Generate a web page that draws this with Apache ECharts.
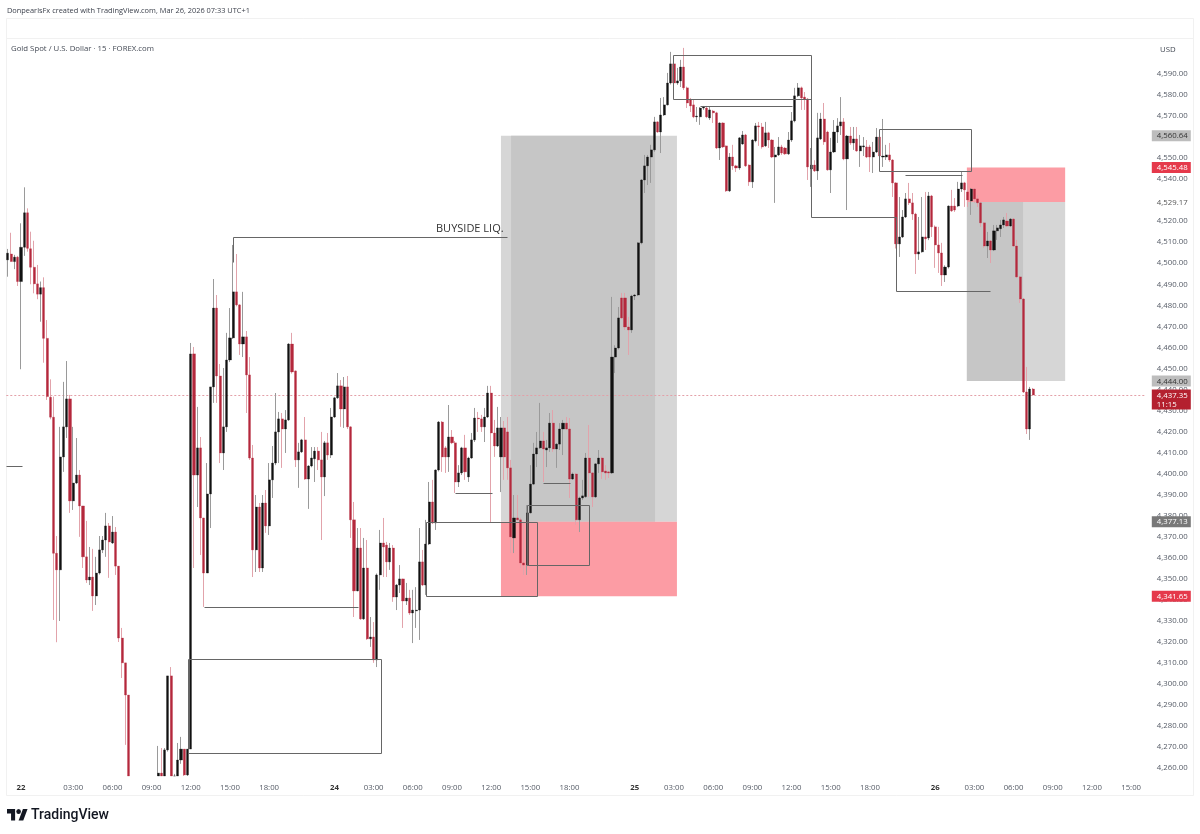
<!DOCTYPE html>
<html>
<head>
<meta charset="utf-8">
<title>Gold Spot 15m</title>
<style>html,body{margin:0;padding:0;background:#fff}#c{width:1200px;height:834px}</style>
<script src="https://cdn.jsdelivr.net/npm/echarts@6/dist/echarts.min.js"></script>
</head>
<body>
<div id="c"></div>
<script>
// open, close, low, high (15 minute bars)
var candles = [
[4501.6,4504.8,4493.6,4506.8],[4504.4,4500.8,4500.8,4514.5],[4500.8,4502.9,4497.2,4504],[4502.9,4491.3,4489.2,4503.5],[4491.3,4507.6,4449.6,4519],
[4507.6,4524,4503.5,4536.1],[4524,4507.1,4505.5,4526.1],[4506.9,4498.1,4490,4515],[4498.1,4490.2,4485.7,4510.7],[4490.2,4485.3,4482.9,4499.2],
[4485.3,4488.4,4472.2,4491.3],[4488.4,4464.3,4452.7,4493.3],[4464.3,4436.6,4435,4473],[4436.3,4426.8,4425.8,4444.8],[4426.8,4362.1,4330.4,4436.6],
[4362.1,4354.2,4319.8,4370.3],[4354.2,4407.9,4329.9,4422.2],[4407.9,4422.2,4400.8,4443.6],[4422.2,4435.5,4416.9,4453.5],[4435.5,4387,4381.3,4437.4],
[4387,4395.5,4382.7,4422.2],[4395.5,4399.3,4395,4416.9],[4399.3,4384.6,4369.9,4401.7],[4384.6,4360.4,4355.1,4384.6],[4360.4,4349.4,4348,4377.5],
[4349.4,4350.8,4347,4365.1],[4350.8,4341.8,4334.7,4364.2],[4341.8,4352.7,4337.5,4360.4],[4352.7,4363.7,4352,4370.3],[4363.7,4368.4,4362.2,4370.3],
[4368.4,4375.1,4360.4,4381.3],[4375.1,4367.5,4350.4,4376.5],[4367,4372.2,4366.5,4379.8],[4372.2,4356,4351.8,4374.6],[4356,4321.8,4319.9,4356],
[4321.8,4310,4302.8,4326.6],[4310,4294.7,4271,4310],[4294.7,4250,4245,4294.7],[4250,4242,4238,4253],[4242,4236,4232,4248],
[4236,4240,4230,4246],[4240,4232,4228,4244],[4232,4238,4226,4242],[4238,4234,4230,4244],[4234,4240,4230,4246],
[4240,4246,4236,4250],[4254,4257.6,4250,4270.5],[4257.6,4254,4250,4269.5],[4254,4268.6,4250,4269.5],[4268.6,4303.8,4267.8,4303.8],
[4303.8,4254,4250,4308],[4250,4252,4246,4257.2],[4254,4263.8,4250,4271.9],[4263.8,4269,4262,4274.8],[4269,4256.7,4254,4269],
[4256.7,4269,4254,4269],[4269,4456.9,4269,4462.1],[4456.9,4399.3,4355.1,4460.2],[4399.3,4412.2,4384.1,4431.7],[4412.2,4378.9,4361.3,4417.4],
[4378.9,4352.7,4336.6,4378.9],[4352.7,4390.3,4352.7,4405],[4390.3,4441.2,4374.1,4441.2],[4441.2,4478.7,4433.6,4492.5],[4478.7,4446.4,4433.6,4484.9],
[4446.4,4409.8,4405,4452.1],[4409.8,4422.2,4401.7,4450.2],[4422.2,4454,4419.8,4466.9],[4454,4464.5,4453,4478.7],[4464.5,4486.4,4464,4508.7],
[4486.4,4480.2,4479.5,4504.4],[4480.2,4461.6,4456.4,4480.5],[4461.6,4465,4455.4,4486.4],[4465,4446.9,4428.8,4467.8],[4446.9,4407.4,4406.5,4455.4],
[4407.4,4363.7,4350.8,4413.6],[4363.7,4384.1,4353.2,4389.8],[4384.1,4355.1,4353.2,4386],[4355.1,4386,4353.2,4389.8],[4386,4375.1,4371.8,4392.2],
[4375.1,4397,4370.8,4405],[4397,4405,4388.4,4413.1],[4405,4419.8,4404,4438.3],[4419.8,4426,4405,4429.3],[4426,4421.2,4402.7,4428.8],
[4421.2,4425.5,4409.8,4430.2],[4425.5,4461.6,4425,4462],[4461.6,4448.3,4447.5,4466.9],[4448.8,4406.5,4403.1,4449],[4406.5,4410.3,4393.2,4414.6],
[4410.3,4416,4409.8,4416.5],[4416,4397.4,4397,4426.9],[4397.4,4403.6,4383.2,4404],[4403.6,4407.4,4403,4412.6],[4407,4410.7,4396,4412.6],
[4410.7,4406.5,4401.7,4412.6],[4406.5,4398.4,4368.4,4419.8],[4398.4,4414.6,4389.3,4415.5],[4414.6,4408.8,4406.5,4419.3],[4408.8,4426.9,4407.4,4431.2],
[4426.9,4436,4426.4,4436.5],[4436,4441.7,4435.5,4447.8],[4441.7,4430.7,4422.2,4444.5],[4430.7,4441.2,4421.7,4445.9],[4441.2,4422.2,4421.2,4446.4],
[4422.2,4378,4369.4,4422.5],[4378,4344.2,4331.8,4386.5],[4344.2,4364.6,4344,4374.1],[4364.6,4330.9,4330.4,4374.1],[4330.9,4355.1,4330.4,4369.4],
[4355.1,4321.4,4320.9,4368.4],[4321.4,4322.3,4317.6,4331.8],[4322.3,4311.4,4310,4329.4],[4311.4,4351.8,4308,4352.5],[4351.8,4367,4344.7,4373.2],
[4367,4365.1,4350.8,4378.9],[4366,4358,4350.8,4367.5],[4358,4364.6,4354.2,4367],[4364.6,4341.3,4339,4366],[4341.3,4347,4335.1,4347.5],
[4347,4349.9,4343.2,4356.5],[4349.9,4339.4,4326.6,4350],[4339.4,4340.8,4337.5,4348],[4340.8,4333.7,4332.8,4344.7],[4333.7,4335.1,4319.4,4344.7],
[4334.7,4335.1,4326.6,4346],[4335.1,4358,4320.9,4374.1],[4358,4347,4346.5,4363.7],[4347,4366.5,4342.3,4378],[4366.5,4386.5,4366,4396],
[4386.5,4376.5,4376,4397],[4376.5,4401.7,4373.2,4402],[4401.7,4424.5,4401,4425],[4424.5,4407.9,4400.8,4425],[4412.2,4407.9,4400.3,4413],
[4407.9,4417.4,4400.8,4432.6],[4417.4,4414.6,4414,4420.7],[4414.6,4396,4390.8,4415.5],[4396,4400.3,4393.6,4404],[4400.3,4412.2,4399.3,4412.7],
[4412.2,4400.8,4397,4418.4],[4398.4,4407.4,4396,4408],[4407.4,4416,4407,4419.3],[4416,4426.4,4415,4431.2],[4426.4,4426,4419.8,4429.3],
[4426,4422.2,4419.8,4427.9],[4422.2,4426.9,4415,4431.2],[4426.9,4438.3,4426.4,4441.7],[4438.3,4419.3,4376.5,4441.7],[4419.3,4413.1,4407.9,4425.5],
[4413.1,4421.7,4412.6,4431.7],[4407.9,4421.7,4391.2,4426.9],[4421.7,4407.9,4397,4425],[4419.8,4402.7,4397,4426.9],[4402.7,4369.9,4362.2,4406.5],
[4369.4,4378.9,4362.2,4389.8],[4378.9,4378,4377.5,4389.8],[4378,4357.5,4355.1,4379],[4357.5,4356.5,4351.8,4377],[4356.5,4381.3,4351.8,4385],
[4381.3,4395,4381,4404],[4395,4409.3,4394.5,4414.6],[4409.3,4412.2,4403.1,4419.8],[4412.2,4415.5,4411.7,4433.6],[4415.5,4411.7,4396,4419.8],
[4411.2,4412.2,4403.1,4416],[4412.2,4424,4410.3,4428.8],[4424,4411.7,4410.3,4430.2],[4411.7,4414,4402.7,4414.5],[4414,4421.2,4411.2,4424],
[4421.2,4424,4408.8,4425.5],[4424,4421.2,4420.7,4426.9],[4421.2,4397.4,4388.4,4426.4],[4397.4,4399.8,4397,4400.5],[4399.8,4378,4375.6,4400.3],
[4378,4388.4,4372.2,4389],[4388.4,4389.4,4387.4,4397],[4389,4407.4,4388.5,4409.8],[4407.4,4400.3,4388.9,4423.1],[4400.3,4388.9,4384.1,4400.8],
[4388.9,4404.6,4388.4,4405],[4404.6,4407.4,4400.3,4411.2],[4407.4,4400.8,4397.4,4408],[4401.2,4400.3,4397,4404],[4400.8,4400.3,4397.9,4401.2],
[4400.3,4455.4,4399.8,4484],[4455.4,4459.7,4447.8,4461],[4459.7,4474,4459,4479.2],[4483.5,4474,4473.5,4485.9],[4483.5,4469.7,4468.3,4485.9],
[4469.7,4468.3,4456.4,4474.5],[4468.3,4484.4,4466.9,4485],[4484.4,4484.9,4482.5,4485.4],[4484.9,4509.7,4484.4,4510],[4509.7,4539.6,4509,4540],
[4539.6,4546.3,4533.4,4551.5],[4546.3,4550.5,4537.2,4551.5],[4550.5,4553.9,4538.2,4556.3],[4553.9,4567.2,4553,4569.6],[4567.2,4562.4,4562,4567.5],
[4562.4,4570.5,4552.4,4578.6],[4570.5,4575.3,4570,4579],[4575.3,4585.7,4575,4590.5],[4585.7,4594.8,4585,4600.5],[4594.8,4585.7,4582.4,4595],
[4585.7,4586.7,4584.8,4592.9],[4586.7,4593.3,4583.8,4596.7],[4593.3,4583.4,4582.4,4602.4],[4583.4,4576.2,4573.8,4584],[4577.7,4574.8,4571.9,4578.6],
[4575.3,4569.6,4569,4577.7],[4569.6,4570,4567.2,4574.3],[4569.6,4573.8,4565.8,4574.3],[4573.8,4574.3,4572.9,4574.8],[4573.8,4569.6,4569,4574.8],
[4569.1,4572.9,4568.1,4574.3],[4572.4,4571.5,4566.7,4572.9],[4571.5,4554.8,4554.3,4572],[4554.8,4566.7,4549.1,4567],[4566.7,4555.3,4554.8,4567],
[4555.8,4534.4,4533.9,4556],[4534.4,4550.5,4533.9,4552.4],[4550.5,4546.3,4544.4,4556.3],[4546.3,4545.3,4543.4,4546.8],[4545.3,4559.6,4544.4,4560],
[4556.7,4561,4556.3,4562.9],[4561,4546.3,4545.8,4561.5],[4546.7,4538.7,4536.8,4547],[4538.7,4558.6,4535.8,4559],[4558.2,4565.3,4557.5,4566.7],
[4565.3,4564.8,4555.8,4567.2],[4564.8,4555.3,4554.5,4566.7],[4555.8,4562,4555.3,4567.2],[4562,4558.6,4554.8,4562.5],[4558.6,4550.5,4550,4559],
[4550.5,4551.5,4528.7,4555.3],[4551.5,4555.3,4551,4560],[4555.3,4552.4,4551.5,4556.3],[4554.8,4552,4551.5,4555.3],[4552,4558.6,4551.5,4562.4],
[4558.6,4567.7,4557.7,4571.9],[4567.7,4579.6,4567,4583.4],[4579.6,4583.4,4579,4585.7],[4583.4,4578.6,4572.9,4584],[4579,4578.1,4572.9,4581.4],
[4578.1,4545.8,4539.6,4578.6],[4544.8,4546.7,4536.3,4554.8],[4546.7,4543.9,4543.4,4549],[4543.9,4559.6,4539.6,4571.5],[4559.1,4568.6,4558.6,4571.5],
[4568.6,4557.7,4556.3,4576.2],[4562.4,4544.4,4544,4563],[4544.4,4552.9,4533.4,4559.6],[4552.9,4562.4,4552.4,4568.1],[4562.4,4565.3,4557.2,4569],
[4565.3,4567.2,4561,4579],[4567.2,4549.6,4549,4569],[4549.6,4560.5,4525.3,4561],[4560.5,4557.2,4556.3,4564.8],[4557.2,4559.1,4553.9,4564.8],
[4559.1,4553.4,4553,4564.8],[4553.4,4555.8,4545.8,4561],[4555.3,4555.8,4551,4560],[4555.3,4550.5,4550,4558.6],[4555.3,4550.5,4543.4,4556.3],
[4550.5,4552.9,4542.9,4557.7],[4552.9,4560,4552.4,4564.3],[4560,4551,4544.4,4563.4],[4550.5,4551,4545.8,4568.6],[4550.5,4551.5,4549.1,4556.3],
[4551.5,4549.1,4548.2,4557.2],[4549.1,4538.2,4531.5,4549.5],[4538.2,4509.2,4507,4538.5],[4509.2,4512.5,4503,4531.5],[4512.5,4522,4512,4525.3],
[4522,4530.6,4521.5,4533.4],[4530.6,4528.7,4527.7,4538.2],[4528.7,4523.4,4520.6,4533.4],[4523.4,4504.4,4494.9,4524],[4504.4,4505.4,4501.6,4522],
[4505.4,4512.5,4505,4531.5],[4512.5,4511.6,4506.3,4533.9],[4512,4532,4511,4533.9],[4532,4517.3,4512.5,4532.5],[4517.3,4508.7,4497.8,4518],
[4508.7,4504.9,4495.4,4517.3],[4504.9,4494.4,4489.2,4509.7],[4494.4,4498.2,4491.1,4499],[4498.2,4527.2,4497.5,4527.5],[4527.2,4524.9,4524.4,4534.9],
[4527.2,4525.3,4524.4,4531],[4527.2,4535.3,4526.7,4538.7],[4535.3,4538.2,4533.9,4543.4],[4538.2,4534.9,4526.8,4538.7],[4533.9,4530.1,4526.8,4538.2],
[4529.6,4535.3,4523,4535.8],[4535.3,4530.6,4528.7,4535.8],[4530.6,4528.7,4526.8,4532.5],[4528.7,4519.2,4517.3,4529],[4519.2,4508.2,4507.3,4519.5],
[4508.2,4510.6,4502.5,4514.9],[4510.6,4506.3,4500.1,4511],[4506.3,4515.4,4505.8,4518.2],[4515.4,4516.8,4511.1,4518.2],[4516.4,4518.2,4512.5,4520.6],
[4518.2,4520.6,4516.8,4522],[4520.1,4517.7,4517.3,4523.9],[4517.7,4521,4517.3,4521.5],[4521,4508.2,4507.8,4521.5],[4508.2,4493.5,4493,4511.1],
[4493.5,4483,4481.1,4494],[4483,4438.8,4438.3,4483.5],[4438.8,4421.2,4418.8,4450.7],[4421.2,4440.2,4416,4441.2],[4440.2,4437.35,4437,4440.7]
];
var barSlots = 349;
var axisMin = 4256.2, axisMax = 4607.1;
var tickIndex = [4,20,32,44,56,68,80,100,112,124,136,148,160,172,192,204,216,228,240,252,264,284,296,308,320,332,344];
var tickText = ['22','03:00','06:00','09:00','12:00','15:00','18:00','24','03:00','06:00','09:00','12:00','15:00','18:00','25','03:00','06:00','09:00','12:00','15:00','18:00','26','03:00','06:00','09:00','12:00','15:00'];
var priceTicks = [4260,4270,4280,4290,4300,4310,4320,4330,4340,4350,4360,4370,4380,4390,4400,4410,4420,4430,4440,4450,4460,4470,4480,4490,4500,4510,4520,4530,4540,4550,4560,4570,4580,4590];
var lastPrice = 4437.35;
// zones: x from, x to (bar index), price top, price bottom, colour
var zones = [
[151,204.9,4560.64,4377.13,'#d6d6d6'],
[154.1,198.2,4560.64,4377.13,'#c6c6c6'],
[151,204.9,4377.13,4341.65,'#fc9ca4'],
[293.7,323.8,4529.17,4444,'#d6d6d6'],
[293.7,310.9,4529.17,4444,'#c6c6c6'],
[293.7,323.8,4545.48,4529.17,'#fc9ca4']
];
// drawings: lists of [bar index, price]
var drawings = [
[[55.2,4311.9],[114.3,4311.9],[114.3,4267],[55.2,4267],[55.2,4311.9]],
[[68.9,4500.6],[68.9,4512.5],[152.8,4512.5]],
[[59.9,4336.6],[107.2,4336.6]],
[[-0.6,4403.6],[4.3,4403.6]],
[[128,4377],[162,4377],[162,4341.8],[128,4341.8],[128,4377]],
[[159,4385],[178,4385],[178,4356.5],[159,4356.5],[159,4385]],
[[136.9,4390.8],[148.2,4390.8]],
[[163.9,4395.5],[172.2,4395.5]],
[[203.7,4599],[245.9,4599],[245.9,4522],[271.9,4522],[271.9,4487],[300.8,4487]],
[[203.7,4599],[203.7,4577.9],[245.9,4577.9]],
[[212,4574.8],[240.2,4574.8]],
[[266.8,4564],[295,4564],[295,4544],[266.8,4544],[266.8,4564]],
[[274.8,4542],[292.2,4542]]
];
// price tags: value, text, background, text colour
var tags = [
[4560.64,'4,560.64','#bdbdbd','#333333'],
[4545.48,'4,545.48','#e5394b','#ffffff'],
[4529.17,'4,529.17','#ffffff','#555555'],
[4444,'4,444.00','#bdbdbd','#333333'],
[4377.13,'4,377.13','#787878','#ffffff'],
[4341.65,'4,341.65','#e5394b','#ffffff']
];
var FONT = '"Open Sans","Noto Sans",sans-serif';
var SIZE = 7.8;

var categories = [];
for (var i = 0; i < barSlots; i++) categories.push('');
tickIndex.forEach(function (k, j) { categories[k] = tickText[j]; });
// bars below the pane are cut off at the pane's lower edge
function cut(v) { return Math.max(v, axisMin); }
var shown = candles.map(function (c) {
  return c[3] < axisMin ? ['-', '-', '-', '-'] : c.map(cut);
});
var bodies = shown.map(function (c) {
  return c[0] === '-' ? c : [c[0], c[1], Math.min(c[0], c[1]), Math.max(c[0], c[1])];
});

var chart = echarts.init(document.getElementById('c'), null, {renderer: 'canvas'});
chart.setOption({
  animation: false,
  backgroundColor: '#ffffff',
  grid: {left: 6.3, top: 38, width: 1139.5, height: 738, containLabel: false},
  xAxis: [{
    type: 'category', data: categories, gridIndex: 0,
    axisLine: {show: false}, axisTick: {show: false}, splitLine: {show: false},
    axisLabel: {
      margin: 8, fontFamily: FONT, fontSize: SIZE, color: '#555b66', hideOverlap: false,
      interval: function (idx) { return tickIndex.indexOf(idx) >= 0; },
      formatter: function (v) { return v.length === 2 ? '{d|' + v + '}' : v; },
      rich: {d: {fontFamily: FONT, fontSize: SIZE, fontWeight: 'bold', color: '#333'}}
    }
  }, {
    type: 'value', gridIndex: 0, min: -0.5, max: barSlots - 0.5, show: false, splitLine: {show: false}
  }],
  yAxis: {
    type: 'value', position: 'right', min: axisMin, max: axisMax, scale: true,
    axisLine: {show: false}, axisTick: {show: false}, splitLine: {show: false},
    axisLabel: {
      margin: 11, padding: [5, 0, 0, 0], fontFamily: FONT, fontSize: SIZE, color: '#555b66', customValues: priceTicks,
      formatter: function (v) { return v.toLocaleString('en-US', {minimumFractionDigits: 2, maximumFractionDigits: 2}); }
    }
  },
  graphic: [
    {type: 'rect', silent: true, z: -1, shape: {x: 6.5, y: 18.5, width: 1187, height: 777}, style: {fill: 'none', stroke: '#f1f1f1', lineWidth: 1}},
    {type: 'line', silent: true, z: -1, shape: {x1: 6, y1: 38.5, x2: 1193, y2: 38.5}, style: {stroke: '#f1f1f1', lineWidth: 1}},
    {type: 'text', x: 7, y: 7, z: 20, style: {text: 'DonpearlsFx created with TradingView.com, Mar 26, 2026 07:33 UTC+1', fontFamily: FONT, fontSize: 7.4, fill: '#3a3f4a'}},
    {type: 'text', x: 11, y: 45, z: 20, style: {text: 'Gold Spot / U.S. Dollar · 15 · FOREX.com', fontFamily: FONT, fontSize: SIZE, fill: '#444a55'}},
    {type: 'text', x: 1160, y: 46, z: 20, style: {text: 'USD', fontFamily: FONT, fontSize: SIZE, fill: '#444a55'}},
    {type: 'text', x: 436, y: 223, z: 20, style: {text: 'BUYSIDE LIQ.', fontFamily: '"Open Sans",sans-serif', fontSize: 11, fill: '#333'}},
    {type: 'group', x: 7, y: 809, scaleX: 0.58, scaleY: 0.64, z: 20, children: [
      {type: 'polygon', shape: {points: [[0,0],[14,0],[14,18],[7,18],[7,7],[0,7]]}, style: {fill: '#131722'}},
      {type: 'polygon', shape: {points: [[20,18],[28,18],[35.5,0],[27.5,0]]}, style: {fill: '#131722'}},
      {type: 'circle', shape: {cx: 20, cy: 4, r: 4}, style: {fill: '#131722'}}
    ]},
    {type: 'text', x: 31, y: 808, z: 20, style: {text: 'TradingView', fontFamily: 'Roboto,Inter,sans-serif', fontSize: 14, fontWeight: 500, fill: '#131722'}}
  ],
  series: [
    {
      type: 'custom', name: 'zones', xAxisIndex: 1, yAxisIndex: 0, z: 1, silent: true, clip: false,
      data: zones.map(function (z, i) { return [i]; }),
      renderItem: function (params, api) {
        var z = zones[params.dataIndex];
        var a = api.coord([z[0], z[2]]), b = api.coord([z[1], z[3]]);
        return {type: 'rect', shape: {x: a[0], y: a[1], width: b[0] - a[0], height: b[1] - a[1]}, style: {fill: z[4]}};
      }
    },
    {
      type: 'candlestick', name: 'wicks', xAxisIndex: 0, yAxisIndex: 0, z: 2, silent: true, barWidth: 1,
      data: shown,
      itemStyle: {color: 'rgba(0,0,0,0)', color0: 'rgba(0,0,0,0)', borderColor: '#9a9a9a', borderColor0: '#e2a3ab', borderWidth: 1},
      markLine: {
        silent: true, symbol: 'none', animation: false, z: 2,
        label: {show: false},
        lineStyle: {type: [2, 2], color: '#e3a0a8', width: 1},
        data: [{yAxis: lastPrice}]
      }
    },
    {
      type: 'candlestick', name: 'bodies', xAxisIndex: 0, yAxisIndex: 0, z: 3, silent: true, barWidth: 2.6,
      data: bodies,
      itemStyle: {color: '#111111', color0: '#b4283c', borderColor: '#111111', borderColor0: '#b4283c', borderWidth: 0.3}
    },
    {
      type: 'custom', name: 'drawings', xAxisIndex: 1, yAxisIndex: 0, z: 4, silent: true, clip: false,
      data: drawings.map(function (d, i) { return [i]; }),
      renderItem: function (params, api) {
        var pts = drawings[params.dataIndex].map(function (p) {
          var c = api.coord(p);
          return [Math.round(c[0]) + 0.5, Math.round(c[1]) + 0.5];
        });
        return {type: 'polyline', shape: {points: pts}, style: {fill: 'none', stroke: '#666666', lineWidth: 1}};
      }
    },
    {
      type: 'custom', name: 'tags', xAxisIndex: 1, yAxisIndex: 0, z: 6, silent: true, clip: false,
      data: tags.map(function (t, i) { return [i]; }),
      renderItem: function (params, api) {
        var t = tags[params.dataIndex];
        var p = api.coord([barSlots - 0.5, t[0]]);
        return {type: 'group', children: [
          {type: 'rect', shape: {x: p[0] + 6, y: p[1] - 5.5, width: 39, height: 11}, style: {fill: t[2]}},
          {type: 'text', style: {x: p[0] + 11, y: p[1] + 0.5, text: t[1], fill: t[3], fontFamily: FONT, fontSize: SIZE, verticalAlign: 'middle', align: 'left'}}
        ]};
      }
    },
    {
      type: 'custom', name: 'lastTag', xAxisIndex: 1, yAxisIndex: 0, z: 7, silent: true, clip: false,
      data: [[0]],
      renderItem: function (params, api) {
        var p = api.coord([barSlots - 0.5, lastPrice]);
        return {type: 'group', children: [
          {type: 'rect', shape: {x: p[0] + 6, y: p[1] - 5.5, width: 39, height: 20}, style: {fill: '#b4202f'}},
          {type: 'text', style: {x: p[0] + 11, y: p[1] + 0.5, text: '4,437.35', fill: '#fff', fontFamily: FONT, fontSize: SIZE, verticalAlign: 'middle'}},
          {type: 'text', style: {x: p[0] + 11, y: p[1] + 9.5, text: '11:15', fill: '#fff', fontFamily: FONT, fontSize: SIZE, verticalAlign: 'middle'}}
        ]};
      }
    }
  ]
});
</script>
</body>
</html>
